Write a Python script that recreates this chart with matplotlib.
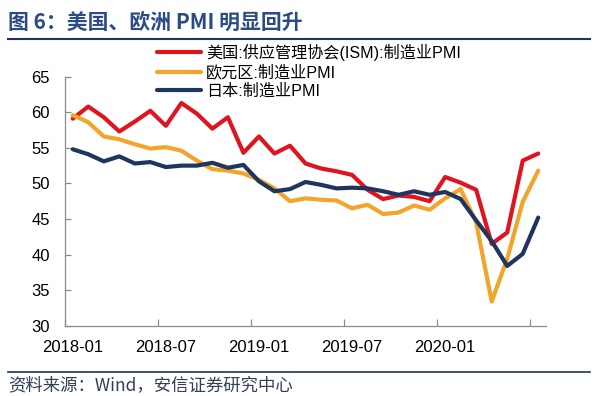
import pandas as pd
from matplotlib import pyplot as plt

plt.rcParams['font.family'] = ['Liberation Sans', 'Noto Sans CJK SC', 'DejaVu Sans']

months = list(pd.date_range('2018-01', periods=31, freq='MS').strftime('%Y-%m'))

us_ism = [59.1, 60.8, 59.3, 57.3, 58.7, 60.2, 58.1, 61.3, 59.8, 57.7, 59.3, 54.3,
          56.6, 54.2, 55.3, 52.8, 52.1, 51.7, 51.2, 49.1, 47.8, 48.3, 48.1, 47.5,
          50.9, 50.1, 49.1, 41.5, 43.1, 53.2, 54.2]
euro_pmi = [59.6, 58.6, 56.6, 56.2, 55.5, 54.9, 55.1, 54.6, 53.2, 52.0, 51.8, 51.4,
            50.5, 49.3, 47.5, 47.9, 47.7, 47.6, 46.5, 47.0, 45.7, 45.9, 46.9, 46.3,
            47.9, 49.2, 44.5, 33.4, 39.4, 47.4, 51.8]
japan_pmi = [54.8, 54.1, 53.1, 53.8, 52.8, 53.0, 52.3, 52.5, 52.5, 52.9, 52.2, 52.6,
             50.3, 48.9, 49.2, 50.2, 49.8, 49.3, 49.4, 49.3, 48.9, 48.4, 48.9, 48.4,
             48.8, 47.8, 44.8, 41.9, 38.4, 40.1, 45.2]

series_names = ['美国:供应管理协会(ISM):制造业PMI', '欧元区:制造业PMI', '日本:制造业PMI']
colors = ['#E0141E', '#F2A52A', '#1F3560']
tick_labels = ['2018-01', '2018-07', '2019-01', '2019-07', '2020-01']

fig = plt.figure(figsize=(6, 3.96), dpi=100)
ax = fig.add_axes([65 / 600, 1 - 325.7 / 396, 481 / 600, 249 / 396])

x = list(range(len(months)))
for vals, name, c in zip([us_ism, euro_pmi, japan_pmi], series_names, colors):
    ax.plot(x, vals, color=c, lw=3, label=name, solid_joinstyle='round', solid_capstyle='round')

ax.set_xlim(-0.5, len(months) - 0.5)
ax.set_ylim(30, 65)
ax.set_yticks(range(30, 66, 5))

# tick marks between categories, labels on the categories
ax.set_xticks([i - 0.5 for i in range(0, len(months), 6)])
ax.set_xticklabels([])
ax.set_xticks([months.index(t) for t in tick_labels], minor=True)
ax.set_xticklabels(tick_labels, minor=True)
ax.tick_params(axis='x', which='major', direction='in', length=5, width=0.9, color='#8C8C8C')
ax.tick_params(axis='x', which='minor', length=0, pad=10, labelsize=12)
ax.tick_params(axis='y', direction='in', length=4, width=0.9, color='#8C8C8C', pad=11, labelsize=12)

for s in ['top', 'right']:
    ax.spines[s].set_visible(False)
for s in ['left', 'bottom']:
    ax.spines[s].set_color('#8C8C8C')
    ax.spines[s].set_linewidth(0.9)

ax.legend(loc='upper left', bbox_to_anchor=(157 / 600, 1 - 44 / 396), bbox_transform=fig.transFigure,
          frameon=False, fontsize=11.6, handlelength=2.75, handletextpad=0.3, labelspacing=0.2,
          borderpad=0, borderaxespad=0)

fig.text(8 / 600, 1 - 22 / 396, '图 6：美国、欧洲 PMI 明显回升', fontsize=15, fontweight='bold',
         color='#2B4A88', va='center', ha='left', family=['Noto Sans CJK SC'])
fig.add_artist(plt.Line2D([8 / 600, 590 / 600], [1 - 38.5 / 396, 1 - 38.5 / 396], color='#1F3560', lw=1.5))
fig.add_artist(plt.Line2D([8 / 600, 590 / 600], [1 - 371.5 / 396, 1 - 371.5 / 396], color='#1F3560', lw=1.2))
fig.text(8 / 600, 1 - 385 / 396, '资料来源：Wind，安信证券研究中心', fontsize=12.5,
         color='#333F55', va='center', ha='left', family=['Noto Sans CJK SC'])

fig.savefig('out.png', dpi=100)
